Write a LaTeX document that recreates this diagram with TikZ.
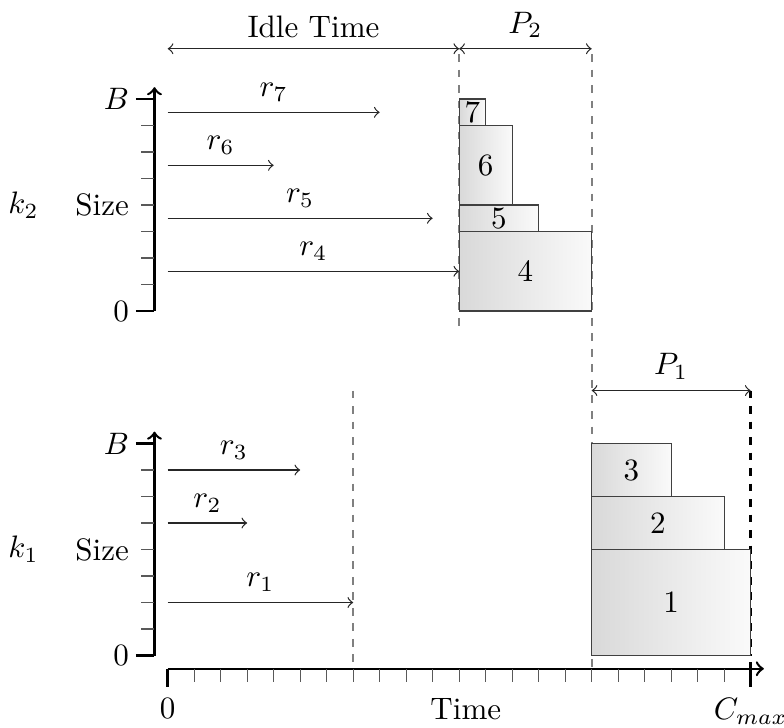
\documentclass[tikz,border=0pt]{standalone}
\usepackage{amsmath,amssymb}
\usepackage{xcolor}
\usepackage{tikz}
\usetikzlibrary{calc,positioning}
\definecolor{guidegray}{RGB}{128,128,128}
\tikzset{
  jobbox/.style={draw=black!75,left color=gray!30,right color=gray!4},
  release/.style={->,draw=black!85,text=black},
  span/.style={<->,draw=black!85,text=black},
  guide/.style={guidegray,semithick,dash pattern=on 2.5pt off 2.5pt},
  tickmark/.style={black!65},
  axisline/.style={->,thick}
}

\begin{document}
\begin{tikzpicture}[x=0.3cm,y=0.3cm]
  \useasboundingbox (-6.33,-2.70) rectangle (23.26,24.74);
  % time axis
  \draw[axisline] (0,-0.5) -- (22.5,-0.5);
  \foreach \t in {1,...,21} \draw[tickmark] (\t,-0.5) -- (\t,-1);
  \draw[thick] (0,-0.5) -- (0,-1.2); \draw[thick] (22,-0.25) -- (22,-1.2);
  \node[below] (tzero) at (0,-1.2) {$0$};
  \node[below] (tlabel) at (11.25,-1.2) {Time};
  \node[below] (tcmax) at (22,-1.2) {$C_{max}$};
  % guides and spans
  \draw[guide] (7,10) -- (7,-0.5); \draw[guide] (16,22.7) -- (16,-0.5); \draw[guide] (11,22.7) -- (11,12.3);
  \draw[thick,dash pattern=on 2.5pt off 2.5pt] (22,10) -- (22,0);
  \coordinate (idleL) at (0,22.9); \coordinate (idleR) at (11,22.9); \coordinate (ptwoR) at (16,22.9);
  \coordinate (poneL) at (16,10); \coordinate (poneR) at (22,10);
  \draw[span] (idleL) -- node[above] (idle) {Idle Time} (idleR);
  \draw[span] (idleR) -- node[above] (ptwo) {$P_2$} (ptwoR);
  \draw[span] (poneL) -- node[above] (pone) {$P_1$} (poneR);
  \begin{scope}
    \draw[axisline] (-0.5,0) -- (-0.5,8.45);
    \foreach \s in {1,...,7} \draw[tickmark] (-1,\s) -- (-0.5,\s);
    \draw[thick] (-1.2,0) -- (-0.5,0); \draw[thick] (-1.2,8) -- (-0.5,8);
    \node[left] (zeroone) at (-1.05,0) {$0$}; \node[left] (bone) at (-1.05,8) {$B$};
    \node[left] (sizeone) at (-1.05,4) {Size}; \node[left=0.17cm of sizeone] (kone) {$k_1$};
    \draw[release] (0,7) -- node[above] (rthree) {$r_3$} (5,7);
    \draw[release] (0,5) -- node[above] (rtwo) {$r_2$} (3,5);
    \draw[release] (0,2) -- node[above] (rone) {$r_1$} (7,2);
    \draw[jobbox] (16,0) rectangle (22,4); \node (jone) at (19,2) {1};
    \draw[jobbox] (16,4) rectangle (21,6); \node (jtwo) at (18.5,5) {2};
    \draw[jobbox] (16,6) rectangle (19,8); \node (jthree) at (17.5,7) {3};
  \end{scope}
  \begin{scope}[yshift=3.9cm]
    \draw[axisline] (-0.5,0) -- (-0.5,8.45);
    \foreach \s in {1,...,7} \draw[tickmark] (-1,\s) -- (-0.5,\s);
    \draw[thick] (-1.2,0) -- (-0.5,0); \draw[thick] (-1.2,8) -- (-0.5,8);
    \node[left] (zerotwo) at (-1.05,0) {$0$}; \node[left] (btwo) at (-1.05,8) {$B$};
    \node[left] (sizetwo) at (-1.05,4) {Size}; \node[left=0.17cm of sizetwo] (ktwo) {$k_2$};
    \draw[release] (0,7.5) -- node[above] (rseven) {$r_7$} (8,7.5);
    \draw[release] (0,5.5) -- node[above] (rsix) {$r_6$} (4,5.5);
    \draw[release] (0,3.5) -- node[above] (rfive) {$r_5$} (10,3.5);
    \draw[release] (0,1.5) -- node[above] (rfour) {$r_4$} (11,1.5);
    \draw[jobbox] (11,0) rectangle (16,3); \node (jfour) at (13.5,1.5) {4};
    \draw[jobbox] (11,3) rectangle (14,4); \node (jfive) at (12.5,3.5) {5};
    \draw[jobbox] (11,4) rectangle (13,7); \node (jsix) at (12,5.5) {6};
    \draw[jobbox] (11,7) rectangle (12,8); \node (jseven) at (11.5,7.5) {7};
  \end{scope}
\end{tikzpicture}
\end{document}
